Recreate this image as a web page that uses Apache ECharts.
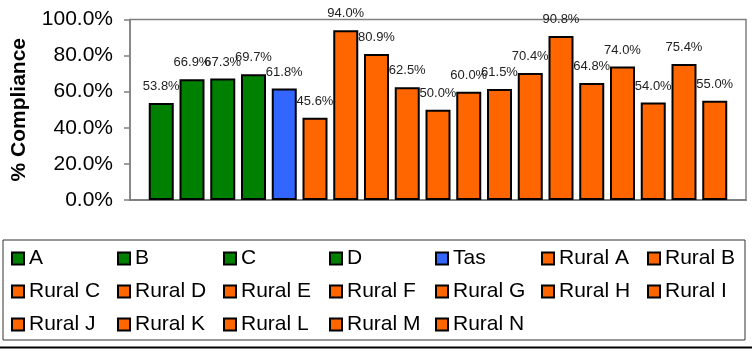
<!DOCTYPE html>
<html>
<head>
<meta charset="utf-8">
<script src="https://cdn.jsdelivr.net/npm/echarts@6/dist/echarts.min.js"></script>
<style>
  html, body { margin: 0; padding: 0; background: #fff; }
  #chart { width: 752px; height: 353px; }
</style>
</head>
<body>
<div id="chart"></div>
<script>
// Compliance rate by area (percent)
const seriesNames = ['A', 'B', 'C', 'D', 'Tas',
  'Rural A', 'Rural B', 'Rural C', 'Rural D', 'Rural E', 'Rural F', 'Rural G',
  'Rural H', 'Rural I', 'Rural J', 'Rural K', 'Rural L', 'Rural M', 'Rural N'];
const complianceValues = [53.8, 66.9, 67.3, 69.7, 61.8,
  45.6, 94.0, 80.9, 62.5, 50.0, 60.0, 61.5,
  70.4, 90.8, 64.8, 74.0, 54.0, 75.4, 55.0];
const groupOf = ['region', 'region', 'region', 'region', 'state',
  'rural', 'rural', 'rural', 'rural', 'rural', 'rural', 'rural',
  'rural', 'rural', 'rural', 'rural', 'rural', 'rural', 'rural'];
const yTicks = [0, 20, 40, 60, 80, 100];

const groupColors = { region: '#008000', state: '#3366FF', rural: '#FF6600' };
const FONT = "'Liberation Sans', Arial, sans-serif";

const series = seriesNames.map((name, i) => ({
  name: name,
  type: 'bar',
  data: [complianceValues[i]],
  barWidth: 25,
  barGap: '23%',
  itemStyle: { color: groupColors[groupOf[i]], borderColor: '#000', borderWidth: 2 },
  label: {
    show: true,
    position: 'top',
    distance: 10,
    fontFamily: FONT,
    fontSize: 13,
    color: '#222',
    formatter: p => p.value.toFixed(1) + '%'
  },
  emphasis: { disabled: true },
  animation: false
}));

const chart = echarts.init(document.getElementById('chart'));
chart.setOption({
  animation: false,
  textStyle: { fontFamily: FONT },
  grid: {
    left: 130, right: 6, top: 19.5, bottom: 153,
    show: true, borderColor: '#808080', borderWidth: 1.5
  },
  xAxis: {
    type: 'category',
    data: [''],
    axisLine: { show: true, lineStyle: { color: '#808080', width: 2 } },
    axisTick: { show: false },
    axisLabel: { show: false }
  },
  yAxis: {
    type: 'value',
    min: yTicks[0],
    max: yTicks[yTicks.length - 1],
    interval: yTicks[1] - yTicks[0],
    name: '% Compliance',
    nameLocation: 'middle',
    nameGap: 100,
    nameTextStyle: { fontFamily: FONT, fontSize: 21, fontWeight: 'bold', color: '#000' },
    axisLine: { show: true, lineStyle: { color: '#808080', width: 1.5 } },
    axisTick: { show: true, length: 6, lineStyle: { color: '#808080', width: 1.5 } },
    splitLine: { show: false },
    axisLabel: {
      margin: 17,
      fontFamily: FONT,
      fontSize: 21,
      color: '#000',
      formatter: v => v.toFixed(1) + '%'
    }
  },
  legend: {
    left: 3,
    top: 240,
    width: 745,
    padding: [8, 4, 5, 8],
    borderColor: '#333',
    borderWidth: 1,
    icon: 'rect',
    itemWidth: 12,
    itemHeight: 12,
    itemGap: 12,
    itemStyle: { borderColor: '#000', borderWidth: 2 },
    textStyle: { fontFamily: FONT, fontSize: 21, color: '#000', width: 76, lineHeight: 21 },
    selectedMode: false,
    data: seriesNames
  },
  graphic: [{
    type: 'line',
    shape: { x1: 0, y1: 347.5, x2: 752, y2: 347.5 },
    style: { stroke: '#000', lineWidth: 2 }
  }],
  series: series
});
</script>
</body>
</html>
